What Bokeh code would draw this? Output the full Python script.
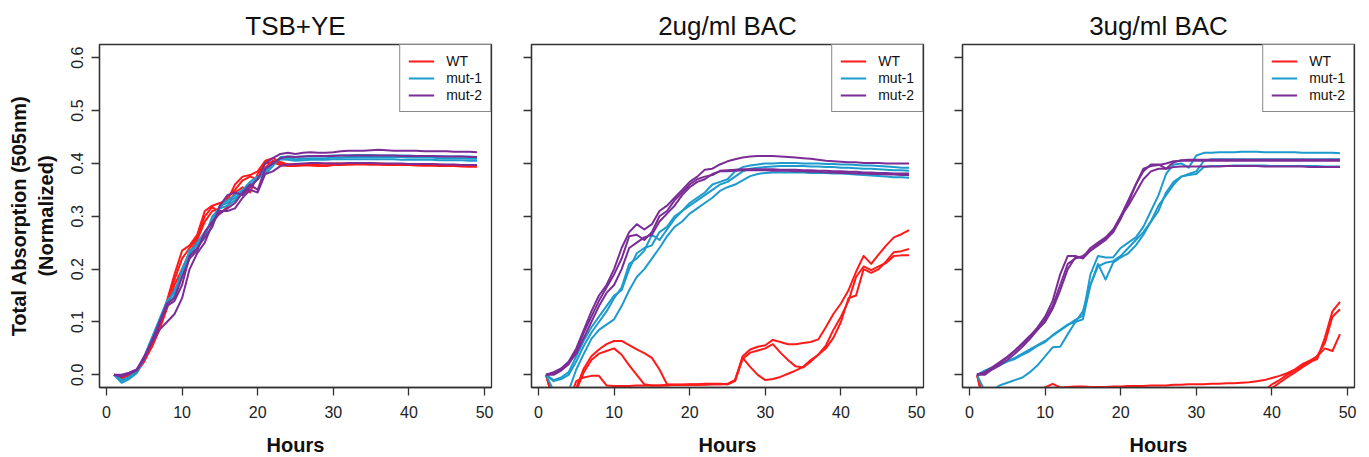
from bokeh.plotting import figure
from bokeh.layouts import row
from bokeh.models import Range1d, Legend, LegendItem, FixedTicker, NumeralTickFormatter, CustomJSTickFormatter
from bokeh.embed import file_html
from bokeh.resources import INLINE

hours = list(range(1, 50))
panel_titles = ["TSB+YE", "2ug/ml BAC", "3ug/ml BAC"]
series_names = ["WT", "mut-1", "mut-2"]
x_ticks = [0, 10, 20, 30, 40, 50]
y_ticks = [0.0, 0.1, 0.2, 0.3, 0.4, 0.5, 0.6]

# ---------------- TSB+YE ----------------
tsb_wt_1 = [0.000, -0.008, -0.003, 0.005, 0.025, 0.055, 0.090, 0.140, 0.190, 0.235,
            0.245, 0.265, 0.310, 0.320, 0.325, 0.330, 0.360, 0.375, 0.378, 0.385,
            0.405, 0.410, 0.403, 0.398, 0.397, 0.397, 0.398, 0.396, 0.395, 0.397,
            0.398, 0.398, 0.399, 0.399, 0.398, 0.398, 0.398, 0.398, 0.397, 0.397,
            0.397, 0.396, 0.396, 0.396, 0.395, 0.395, 0.395, 0.394, 0.394]
tsb_wt_2 = [0.000, -0.004, 0.002, 0.008, 0.030, 0.060, 0.100, 0.135, 0.180, 0.220,
            0.240, 0.260, 0.300, 0.318, 0.305, 0.318, 0.345, 0.355, 0.345, 0.380,
            0.400, 0.402, 0.397, 0.395, 0.395, 0.396, 0.396, 0.395, 0.396, 0.397,
            0.397, 0.398, 0.398, 0.398, 0.398, 0.398, 0.397, 0.397, 0.397, 0.397,
            0.396, 0.396, 0.396, 0.395, 0.395, 0.395, 0.394, 0.394, 0.394]
tsb_wt_3 = [0.000, -0.006, 0.000, 0.006, 0.028, 0.052, 0.085, 0.125, 0.170, 0.200,
            0.232, 0.255, 0.290, 0.310, 0.315, 0.335, 0.350, 0.368, 0.375, 0.370,
            0.392, 0.405, 0.400, 0.398, 0.398, 0.398, 0.399, 0.399, 0.400, 0.400,
            0.400, 0.400, 0.400, 0.400, 0.400, 0.400, 0.399, 0.399, 0.399, 0.399,
            0.399, 0.398, 0.398, 0.398, 0.397, 0.397, 0.397, 0.396, 0.396]
tsb_m1_1 = [0.000, -0.015, -0.008, 0.003, 0.030, 0.065, 0.100, 0.135, 0.160, 0.190,
            0.225, 0.250, 0.265, 0.295, 0.320, 0.325, 0.335, 0.345, 0.360, 0.370,
            0.385, 0.400, 0.410, 0.410, 0.408, 0.409, 0.410, 0.410, 0.410, 0.411,
            0.411, 0.412, 0.412, 0.412, 0.412, 0.412, 0.412, 0.412, 0.412, 0.411,
            0.411, 0.411, 0.411, 0.410, 0.410, 0.410, 0.410, 0.409, 0.409]
tsb_m1_2 = [0.000, -0.012, -0.005, 0.005, 0.035, 0.070, 0.105, 0.140, 0.155, 0.195,
            0.235, 0.245, 0.260, 0.300, 0.315, 0.320, 0.330, 0.350, 0.365, 0.375,
            0.380, 0.395, 0.412, 0.413, 0.412, 0.413, 0.414, 0.414, 0.414, 0.415,
            0.415, 0.415, 0.416, 0.416, 0.416, 0.415, 0.415, 0.415, 0.415, 0.415,
            0.414, 0.414, 0.414, 0.414, 0.413, 0.413, 0.413, 0.413, 0.412]
tsb_m1_3 = [0.000, -0.010, -0.004, 0.006, 0.032, 0.068, 0.100, 0.130, 0.150, 0.200,
            0.230, 0.250, 0.270, 0.290, 0.320, 0.330, 0.340, 0.350, 0.360, 0.370,
            0.390, 0.400, 0.408, 0.407, 0.405, 0.406, 0.407, 0.407, 0.407, 0.408,
            0.408, 0.408, 0.408, 0.408, 0.408, 0.408, 0.408, 0.408, 0.407, 0.407,
            0.407, 0.407, 0.407, 0.406, 0.406, 0.406, 0.406, 0.405, 0.405]
tsb_m2_1 = [0.000, -0.002, 0.003, 0.010, 0.035, 0.060, 0.085, 0.100, 0.115, 0.145,
            0.200, 0.230, 0.250, 0.285, 0.310, 0.310, 0.315, 0.335, 0.350, 0.345,
            0.380, 0.385, 0.395, 0.398, 0.399, 0.400, 0.401, 0.401, 0.400, 0.400,
            0.400, 0.401, 0.401, 0.401, 0.401, 0.400, 0.400, 0.400, 0.400, 0.399,
            0.399, 0.399, 0.399, 0.398, 0.398, 0.398, 0.397, 0.397, 0.397]
tsb_m2_2 = [0.000, 0.000, 0.004, 0.010, 0.032, 0.065, 0.095, 0.130, 0.140, 0.170,
            0.225, 0.240, 0.260, 0.280, 0.320, 0.340, 0.345, 0.340, 0.355, 0.370,
            0.400, 0.410, 0.418, 0.420, 0.418, 0.420, 0.421, 0.420, 0.420, 0.421,
            0.423, 0.424, 0.424, 0.424, 0.425, 0.426, 0.425, 0.424, 0.424, 0.424,
            0.424, 0.423, 0.423, 0.423, 0.423, 0.422, 0.422, 0.422, 0.421]
tsb_m2_3 = [0.000, -0.003, 0.002, 0.008, 0.030, 0.062, 0.100, 0.135, 0.145, 0.185,
            0.220, 0.235, 0.270, 0.290, 0.305, 0.315, 0.325, 0.345, 0.360, 0.350,
            0.390, 0.400, 0.410, 0.413, 0.412, 0.413, 0.414, 0.414, 0.414, 0.414,
            0.415, 0.415, 0.415, 0.415, 0.415, 0.415, 0.415, 0.415, 0.414, 0.414,
            0.414, 0.414, 0.414, 0.413, 0.413, 0.413, 0.413, 0.412, 0.412]

# ---------------- 2ug/ml BAC ----------------
bac2_wt_1 = [0.000, -0.050, -0.060, -0.050, -0.025, 0.012, 0.035, 0.048, 0.058, 0.064,
             0.064, 0.056, 0.048, 0.041, 0.032, 0.010, -0.018, -0.019, -0.019, -0.018,
             -0.018, -0.017, -0.017, -0.017, -0.018, -0.010, 0.035, 0.048, 0.053, 0.056,
             0.066, 0.062, 0.058, 0.058, 0.060, 0.062, 0.067, 0.090, 0.115, 0.135,
             0.160, 0.195, 0.225, 0.210, 0.228, 0.245, 0.260, 0.266, 0.274]
bac2_wt_2 = [0.000, -0.050, -0.060, -0.050, -0.030, 0.005, 0.028, 0.040, 0.045, 0.050,
             0.038, 0.018, 0.000, -0.018, -0.020, -0.020, -0.020, -0.019, -0.019, -0.019,
             -0.019, -0.018, -0.018, -0.018, -0.018, -0.012, 0.032, 0.015, 0.000, -0.010,
             -0.008, -0.004, 0.002, 0.008, 0.015, 0.028, 0.038, 0.055, 0.085, 0.110,
             0.140, 0.185, 0.205, 0.198, 0.205, 0.212, 0.225, 0.226, 0.226]
bac2_wt_3 = [0.000, -0.050, -0.060, -0.050, -0.012, -0.005, -0.002, -0.002, -0.020, -0.021,
             -0.021, -0.021, -0.020, -0.020, -0.020, -0.020, -0.019, -0.019, -0.019, -0.019,
             -0.019, -0.019, -0.018, -0.018, -0.017, -0.010, 0.030, 0.042, 0.046, 0.050,
             0.058, 0.042, 0.028, 0.016, 0.014, 0.025, 0.038, 0.050, 0.070, 0.100,
             0.145, 0.150, 0.200, 0.193, 0.200, 0.215, 0.232, 0.234, 0.238]
bac2_m1_1 = [0.000, -0.010, -0.005, 0.005, 0.035, 0.065, 0.090, 0.110, 0.130, 0.150,
             0.160, 0.200, 0.230, 0.240, 0.245, 0.270, 0.280, 0.300, 0.310, 0.325,
             0.335, 0.345, 0.360, 0.365, 0.370, 0.385, 0.393, 0.396, 0.398, 0.400,
             0.400, 0.401, 0.401, 0.401, 0.400, 0.400, 0.400, 0.399, 0.399, 0.398,
             0.398, 0.397, 0.396, 0.396, 0.395, 0.394, 0.393, 0.392, 0.392]
bac2_m1_2 = [0.000, -0.012, -0.008, 0.000, 0.025, 0.055, 0.080, 0.100, 0.120, 0.145,
             0.165, 0.210, 0.220, 0.235, 0.265, 0.255, 0.275, 0.295, 0.310, 0.320,
             0.330, 0.340, 0.350, 0.360, 0.365, 0.375, 0.385, 0.390, 0.392, 0.393,
             0.394, 0.395, 0.395, 0.395, 0.395, 0.394, 0.394, 0.393, 0.393, 0.392,
             0.392, 0.391, 0.390, 0.390, 0.389, 0.388, 0.387, 0.387, 0.386]
bac2_m1_3 = [0.000, -0.030, -0.040, -0.030, 0.010, 0.040, 0.068, 0.085, 0.095, 0.105,
             0.130, 0.160, 0.185, 0.200, 0.220, 0.240, 0.262, 0.280, 0.290, 0.305,
             0.315, 0.325, 0.335, 0.348, 0.355, 0.360, 0.368, 0.376, 0.380, 0.382,
             0.383, 0.383, 0.383, 0.383, 0.383, 0.382, 0.382, 0.382, 0.381, 0.381,
             0.380, 0.379, 0.378, 0.377, 0.376, 0.375, 0.374, 0.374, 0.373]
bac2_m2_1 = [0.000, 0.005, 0.012, 0.025, 0.050, 0.085, 0.120, 0.150, 0.170, 0.200,
             0.240, 0.270, 0.285, 0.275, 0.285, 0.310, 0.320, 0.335, 0.350, 0.365,
             0.375, 0.388, 0.390, 0.398, 0.404, 0.408, 0.411, 0.413, 0.414, 0.414,
             0.414, 0.413, 0.412, 0.411, 0.410, 0.409, 0.407, 0.405, 0.404, 0.403,
             0.402, 0.402, 0.401, 0.401, 0.401, 0.400, 0.400, 0.400, 0.400]
bac2_m2_2 = [0.000, 0.000, 0.008, 0.020, 0.045, 0.080, 0.110, 0.140, 0.165, 0.190,
             0.220, 0.262, 0.265, 0.255, 0.270, 0.300, 0.310, 0.330, 0.345, 0.360,
             0.370, 0.375, 0.378, 0.386, 0.387, 0.388, 0.389, 0.389, 0.389, 0.389,
             0.389, 0.388, 0.388, 0.388, 0.387, 0.387, 0.386, 0.386, 0.385, 0.385,
             0.384, 0.384, 0.383, 0.383, 0.382, 0.382, 0.381, 0.381, 0.381]
bac2_m2_3 = [0.000, 0.003, 0.010, 0.022, 0.040, 0.070, 0.100, 0.130, 0.155, 0.170,
             0.200, 0.240, 0.250, 0.260, 0.265, 0.290, 0.305, 0.320, 0.340, 0.355,
             0.365, 0.370, 0.380, 0.385, 0.385, 0.386, 0.387, 0.387, 0.387, 0.387,
             0.386, 0.386, 0.386, 0.385, 0.385, 0.384, 0.384, 0.383, 0.383, 0.382,
             0.382, 0.381, 0.381, 0.380, 0.380, 0.379, 0.379, 0.378, 0.378]

# ---------------- 3ug/ml BAC ----------------
bac3_wt_1 = [0.000, -0.050, -0.050, -0.045, -0.040, -0.038, -0.035, -0.032, -0.030, -0.024,
             -0.017, -0.024, -0.023, -0.022, -0.022, -0.023, -0.023, -0.023, -0.022, -0.022,
             -0.021, -0.021, -0.021, -0.020, -0.020, -0.020, -0.019, -0.019, -0.018, -0.018,
             -0.018, -0.017, -0.017, -0.016, -0.016, -0.015, -0.014, -0.012, -0.010, -0.006,
             -0.002, 0.003, 0.010, 0.020, 0.027, 0.035, 0.050, 0.045, 0.077]
bac3_wt_2 = [0.000, -0.060, -0.060, -0.060, -0.060, -0.055, -0.055, -0.055, -0.050, -0.050,
             -0.050, -0.050, -0.050, -0.048, -0.048, -0.048, -0.046, -0.046, -0.045, -0.045,
             -0.044, -0.044, -0.043, -0.043, -0.042, -0.042, -0.041, -0.041, -0.040, -0.040,
             -0.040, -0.039, -0.039, -0.038, -0.038, -0.036, -0.035, -0.033, -0.030, -0.018,
             -0.010, 0.000, 0.008, 0.017, 0.024, 0.030, 0.070, 0.120, 0.138]
bac3_wt_3 = [0.000, -0.060, -0.060, -0.060, -0.060, -0.058, -0.058, -0.056, -0.055, -0.055,
             -0.054, -0.054, -0.053, -0.052, -0.052, -0.051, -0.050, -0.050, -0.049, -0.049,
             -0.048, -0.048, -0.047, -0.047, -0.046, -0.046, -0.045, -0.045, -0.044, -0.044,
             -0.043, -0.043, -0.042, -0.042, -0.041, -0.040, -0.039, -0.037, -0.035, -0.025,
             -0.015, -0.005, 0.004, 0.014, 0.023, 0.036, 0.060, 0.110, 0.124]
bac3_m1_1 = [0.000, 0.008, 0.014, 0.020, 0.026, 0.032, 0.040, 0.048, 0.056, 0.064,
             0.074, 0.084, 0.094, 0.104, 0.112, 0.190, 0.225, 0.222, 0.222, 0.240,
             0.250, 0.260, 0.280, 0.310, 0.340, 0.380, 0.398, 0.400, 0.392, 0.415,
             0.420, 0.420, 0.421, 0.421, 0.421, 0.422, 0.422, 0.422, 0.421, 0.421,
             0.421, 0.421, 0.421, 0.420, 0.420, 0.420, 0.420, 0.420, 0.419]
bac3_m1_2 = [0.000, 0.005, 0.012, 0.018, 0.025, 0.030, 0.038, 0.045, 0.055, 0.062,
             0.075, 0.085, 0.095, 0.100, 0.105, 0.170, 0.210, 0.180, 0.212, 0.222,
             0.230, 0.245, 0.265, 0.290, 0.310, 0.345, 0.365, 0.375, 0.380, 0.385,
             0.405, 0.408, 0.408, 0.408, 0.408, 0.408, 0.408, 0.408, 0.408, 0.408,
             0.408, 0.408, 0.408, 0.408, 0.408, 0.408, 0.408, 0.408, 0.408]
bac3_m1_3 = [0.000, -0.030, -0.030, -0.020, -0.015, -0.010, -0.005, 0.005, 0.018, 0.035,
             0.052, 0.053, 0.077, 0.100, 0.120, 0.170, 0.205, 0.212, 0.215, 0.225,
             0.240, 0.255, 0.270, 0.290, 0.320, 0.340, 0.360, 0.375, 0.378, 0.380,
             0.393, 0.395, 0.395, 0.395, 0.396, 0.396, 0.396, 0.396, 0.396, 0.395,
             0.395, 0.395, 0.395, 0.395, 0.395, 0.395, 0.394, 0.394, 0.394]
bac3_m2_1 = [0.000, 0.003, 0.012, 0.022, 0.033, 0.045, 0.058, 0.072, 0.090, 0.110,
             0.140, 0.190, 0.225, 0.225, 0.220, 0.235, 0.245, 0.255, 0.270, 0.300,
             0.330, 0.360, 0.385, 0.398, 0.398, 0.390, 0.402, 0.406, 0.407, 0.407,
             0.407, 0.407, 0.407, 0.407, 0.407, 0.407, 0.407, 0.407, 0.407, 0.407,
             0.407, 0.407, 0.407, 0.407, 0.407, 0.407, 0.407, 0.407, 0.407]
bac3_m2_2 = [0.000, 0.000, 0.010, 0.018, 0.028, 0.040, 0.053, 0.068, 0.085, 0.100,
             0.125, 0.160, 0.200, 0.222, 0.222, 0.240, 0.250, 0.260, 0.275, 0.300,
             0.320, 0.345, 0.370, 0.385, 0.390, 0.390, 0.393, 0.394, 0.394, 0.394,
             0.394, 0.394, 0.394, 0.395, 0.395, 0.395, 0.395, 0.395, 0.394, 0.394,
             0.394, 0.394, 0.394, 0.394, 0.393, 0.393, 0.393, 0.393, 0.393]
bac3_m2_3 = [0.000, 0.005, 0.014, 0.024, 0.034, 0.046, 0.060, 0.074, 0.088, 0.105,
             0.130, 0.170, 0.210, 0.220, 0.225, 0.235, 0.248, 0.258, 0.270, 0.295,
             0.325, 0.360, 0.390, 0.395, 0.397, 0.400, 0.404, 0.405, 0.405, 0.405,
             0.405, 0.405, 0.405, 0.405, 0.405, 0.405, 0.405, 0.405, 0.405, 0.405,
             0.405, 0.405, 0.405, 0.405, 0.405, 0.405, 0.405, 0.405, 0.405]

panels = [
    ([tsb_wt_1, tsb_wt_2, tsb_wt_3], [tsb_m1_1, tsb_m1_2, tsb_m1_3], [tsb_m2_1, tsb_m2_2, tsb_m2_3]),
    ([bac2_wt_1, bac2_wt_2, bac2_wt_3], [bac2_m1_1, bac2_m1_2, bac2_m1_3], [bac2_m2_1, bac2_m2_2, bac2_m2_3]),
    ([bac3_wt_1, bac3_wt_2, bac3_wt_3], [bac3_m1_1, bac3_m1_2, bac3_m1_3], [bac3_m2_1, bac3_m2_2, bac3_m2_3]),
]

colors = ["#FF1A1A", "#1E9BCD", "#7B2D96"]
FONT = "Liberation Sans"
AX = "#333333"

figs = []
for i, (title, groups) in enumerate(zip(panel_titles, panels)):
    first = i == 0
    p = figure(output_backend="svg", toolbar_location=None,
               frame_width=392, frame_height=343,
               x_range=Range1d(-0.92, 50.92), y_range=Range1d(-0.024, 0.625),
               min_border_left=99 if first else 20,
               min_border_right=4 if i == 2 else 20 if i == 0 else 19,
               min_border_top=44, min_border_bottom=66,
               title=title)
    p.title.text_font = FONT
    p.title.text_font_size = "26px"
    p.title.text_font_style = "normal"
    p.title.align = "center"
    p.title.text_color = "#111111"
    p.title.standoff = 8
    p.xgrid.visible = False
    p.ygrid.visible = False
    p.outline_line_color = AX
    p.outline_line_width = 1.3
    p.background_fill_color = "white"
    p.border_fill_color = "white"

    for ax in (p.xaxis[0], p.yaxis[0]):
        ax.axis_line_color = AX
        ax.axis_line_width = 1.3
        ax.major_tick_line_color = AX
        ax.major_tick_line_width = 1.3
        ax.major_tick_in = 0
        ax.major_tick_out = 8
        ax.minor_tick_line_color = None
        ax.major_label_text_font = FONT
        ax.major_label_text_font_size = "16px"
        ax.major_label_text_color = "#222222"
        ax.axis_label_text_font = FONT
        ax.axis_label_text_font_style = "bold"
        ax.axis_label_text_font_size = "20px"
        ax.axis_label_text_color = "#111111"

    p.xaxis.ticker = FixedTicker(ticks=x_ticks)
    p.xaxis.major_label_standoff = 10
    p.xaxis.axis_label = "Hours"
    p.xaxis.axis_label_standoff = 13

    p.yaxis.ticker = FixedTicker(ticks=y_ticks)
    if first:
        p.yaxis.formatter = NumeralTickFormatter(format="0.0")
        p.yaxis.major_label_orientation = "vertical"
        p.yaxis.major_label_standoff = 8
        p.yaxis.axis_label = "Total Absorption (505nm)\n(Normalized)"
        p.yaxis.axis_label_standoff = 12
    else:
        p.yaxis.formatter = CustomJSTickFormatter(code="return '';")
        p.yaxis.major_label_standoff = 0

    first_r = []
    for color, group in zip(colors, groups):
        rs = [p.line(hours, vals, line_color=color, line_width=2, line_join="round")
              for vals in group]
        first_r.append(rs[0])

    legend = Legend(items=[LegendItem(label=n, renderers=[r]) for n, r in zip(series_names, first_r)],
                    location="top_right", margin=0, padding=8, spacing=1,
                    label_height=16, glyph_height=16, glyph_width=26, label_standoff=12,
                    label_text_font=FONT, label_text_font_size="14px", label_text_color="#111111",
                    border_line_color="#111111", border_line_width=1,
                    background_fill_color="white", background_fill_alpha=1)
    p.add_layout(legend)
    figs.append(p)

layout = row(*figs)
open("out.html", "w").write(file_html(layout, INLINE))
